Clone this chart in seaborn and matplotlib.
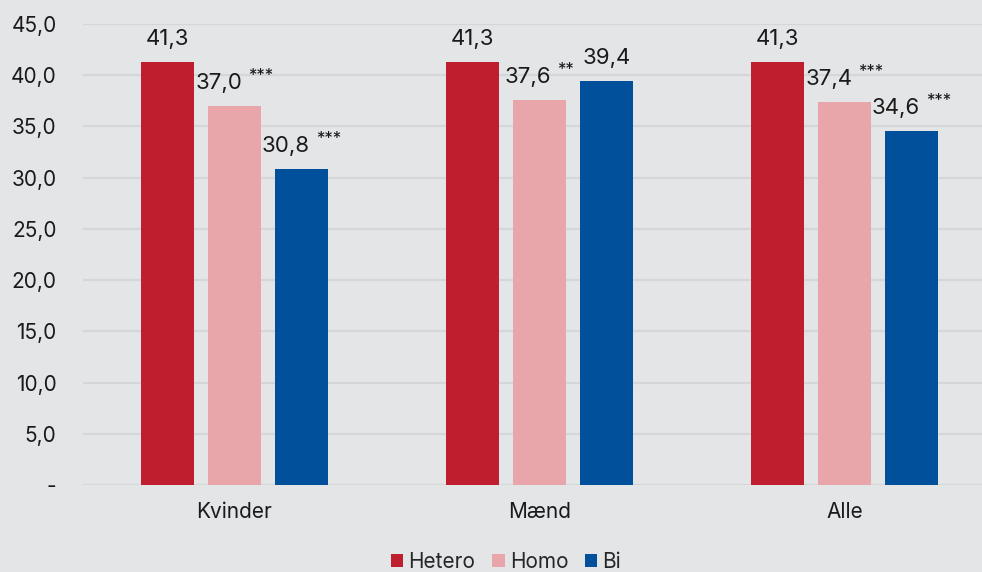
import matplotlib
matplotlib.use("Agg")
import matplotlib.pyplot as plt
import seaborn as sns
import pandas as pd
from matplotlib.patches import Patch

# data
groups = ["Kvinder", "Mænd", "Alle"]
series = ["Hetero", "Homo", "Bi"]
hetero = [41.3, 41.3, 41.3]
homo = [37.0, 37.6, 37.4]
bi = [30.8, 39.4, 34.6]
homo_sig = ["***", "**", "***"]
bi_sig = ["***", "", "***"]
yticks = [0, 5, 10, 15, 20, 25, 30, 35, 40, 45]

colors = ["#be1e2d", "#e8a6ab", "#00509b"]
bg = "#e4e5e7"
grid_col = "#d5d6d8"
txt = "#1a1a1a"

sns.set_style("white")
plt.rcParams["font.family"] = ["Inter", "DejaVu Sans"]

rows = []
for name, vals, sig in [("Hetero", hetero, ["", "", ""]),
                        ("Homo", homo, homo_sig),
                        ("Bi", bi, bi_sig)]:
    for g, v, s in zip(groups, vals, sig):
        rows.append({"group": g, "series": name, "value": v, "sig": s})
df = pd.DataFrame(rows)

fig = plt.figure(figsize=(9.82, 5.72), dpi=100, facecolor=bg)
ax = fig.add_axes([83 / 982, 87 / 572, 899 / 982, 461 / 572])
ax.set_facecolor(bg)

sns.barplot(data=df, x="group", y="value", hue="series", hue_order=series,
            palette=colors, width=0.66, gap=0.21, saturation=1, linewidth=0,
            ax=ax, legend=False, errorbar=None)

ax.set_xlim(-0.5 + 1 / 305, 899 / 305 - 0.5 + 1 / 305)
ax.set_ylim(0, 45)
ax.set_yticks(yticks)
ax.set_yticklabels(["-" if t == 0 else f"{t:.1f}".replace(".", ",") for t in yticks])
for t in yticks:
    ax.axhline(t, color=grid_col, lw=1.6, zorder=0)
ax.set_axisbelow(True)
for s in ax.spines.values():
    s.set_visible(False)
ax.tick_params(axis="y", length=0, pad=19, labelsize=15, colors=txt)
ax.tick_params(axis="x", length=0, pad=12, labelsize=15, colors=txt)
ax.set_xlabel("")
ax.set_ylabel("")

# value labels, with significance stars as a small superscript
pairs = []
for cont, name in zip(ax.containers, series):
    sub = df[df["series"] == name].set_index("group").loc[groups]
    for bar, v, s in zip(cont, sub["value"], sub["sig"]):
        x = bar.get_x() + bar.get_width() / 2
        num = ax.annotate(f"{v:.1f}".replace(".", ","), xy=(x, bar.get_height()),
                          xytext=(0, 17), textcoords="offset pixels",
                          ha="center", va="baseline", fontsize=16, color=txt)
        if s:
            st = ax.annotate(s, xy=(1, 1), xycoords=num, xytext=(6, 5),
                             textcoords="offset pixels", ha="left", va="top",
                             fontsize=12, color=txt)
            pairs.append((num, st))

fig.canvas.draw()
r = fig.canvas.get_renderer()
for num, st in pairs:
    w = st.get_window_extent(r).width + 6
    num.xyann = (-w / 2, 17)

handles = [Patch(facecolor=c, edgecolor="none") for c in colors]
fig.legend(handles, series, loc="center", bbox_to_anchor=(506 / 982, 1 - 562 / 572),
           ncol=3, frameon=False, fontsize=15, handlelength=0.6, handleheight=0.6,
           handletextpad=0.25, columnspacing=0.8, borderaxespad=0)

fig.savefig("out.png", dpi=100, facecolor=bg)
